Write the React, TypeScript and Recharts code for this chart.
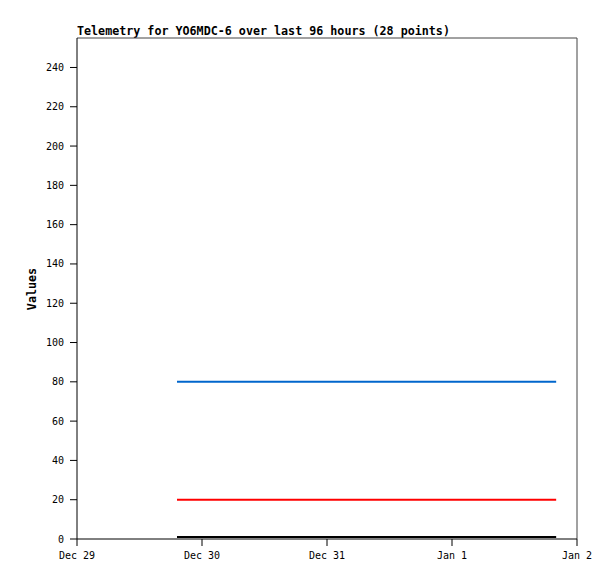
import { LineChart, Line, XAxis, YAxis, ReferenceLine } from "recharts";

// hours since Dec 29 00:00
const hours = [
  19.2, 21.8, 24.5, 27.3, 30.0, 32.6, 35.4, 38.1, 40.8, 43.5, 46.2, 48.9, 51.6, 54.3,
  57.0, 59.7, 62.4, 65.1, 67.8, 70.5, 73.2, 75.9, 78.6, 81.3, 84.0, 86.7, 89.4, 92.0,
];
const blueValues = [
  80, 80, 80, 80, 80, 80, 80, 80, 80, 80, 80, 80, 80, 80,
  80, 80, 80, 80, 80, 80, 80, 80, 80, 80, 80, 80, 80, 80,
];
const redValues = [
  20, 20, 20, 20, 20, 20, 20, 20, 20, 20, 20, 20, 20, 20,
  20, 20, 20, 20, 20, 20, 20, 20, 20, 20, 20, 20, 20, 20,
];
const blackValues = [
  1, 1, 1, 1, 1, 1, 1, 1, 1, 1, 1, 1, 1, 1,
  1, 1, 1, 1, 1, 1, 1, 1, 1, 1, 1, 1, 1, 1,
];
const xTicks = [0, 24, 48, 72, 96];
const xTickLabels = ["Dec 29", "Dec 30", "Dec 31", "Jan 1", "Jan 2"];
const yTicks = [0, 20, 40, 60, 80, 100, 120, 140, 160, 180, 200, 220, 240];

const data = hours.map((h, i) => ({
  t: h,
  blue: blueValues[i],
  red: redValues[i],
  black: blackValues[i],
}));

const mono = "'DejaVu Sans Mono', 'Liberation Mono', monospace";

export default function App() {
  return (
    <div style={{ position: "absolute", left: 0, top: 0, width: 615, height: 579, background: "#fff" }}>
      <LineChart
        width={615}
        height={579}
        data={data}
        margin={{ top: 38, right: 38, bottom: 10, left: 20 }}
      >
        <text x={77} y={35} fontFamily={mono} fontSize={11.7} fontWeight="bold" fill="#000">
          Telemetry for YO6MDC-6 over last 96 hours (28 points)
        </text>
        <text
          x={36}
          y={289}
          transform="rotate(-90 36 289)"
          textAnchor="middle"
          fontFamily={mono}
          fontSize={11.7}
          fontWeight="bold"
          fill="#000"
        >
          Values
        </text>
        <XAxis
          dataKey="t"
          type="number"
          domain={[0, 96]}
          ticks={xTicks}
          tickFormatter={(v: number) => xTickLabels[xTicks.indexOf(v)]}
          height={30}
          stroke="#000"
          tickSize={7}
          tickMargin={6}
          tick={{ fill: "#000", fontFamily: mono, fontSize: 10 }}
          interval={0}
        />
        <YAxis
          type="number"
          domain={[0, 255]}
          ticks={yTicks}
          width={57}
          stroke="#000"
          tickSize={7}
          tickMargin={6}
          tick={{ fill: "#000", fontFamily: mono, fontSize: 10 }}
          interval={0}
        />
        <ReferenceLine y={255} stroke="#444" strokeWidth={1} />
        <ReferenceLine x={96} stroke="#444" strokeWidth={1} />
        <Line dataKey="blue" stroke="#0066cc" strokeWidth={2} dot={false} isAnimationActive={false} />
        <Line dataKey="red" stroke="#ff0000" strokeWidth={2} dot={false} isAnimationActive={false} />
        <Line dataKey="black" stroke="#000" strokeWidth={2} dot={false} isAnimationActive={false} />
      </LineChart>
    </div>
  );
}
